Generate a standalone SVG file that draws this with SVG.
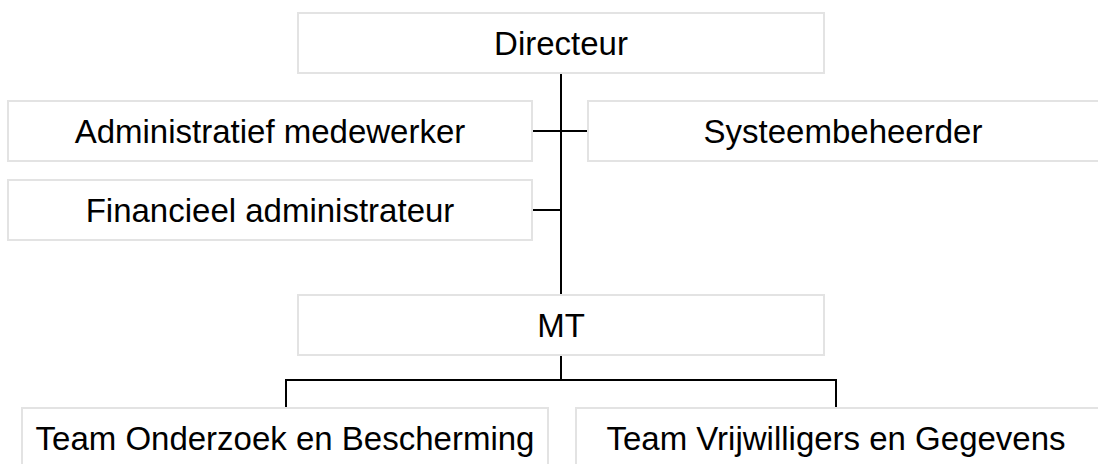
<svg xmlns="http://www.w3.org/2000/svg" width="1098" height="464" viewBox="0 0 1098 464">
<style>
.box{fill:#ffffff;stroke:#e3e3e3;stroke-width:2}
.lbl{font-family:"Liberation Sans",Arial,sans-serif;font-size:33px;fill:#000;text-anchor:middle}
.ln{stroke:#000;stroke-width:2;fill:none}
</style>
<rect width="1098" height="464" fill="#ffffff"/>
<g id="connectors">
<line class="ln" x1="561" y1="73" x2="561" y2="295"/>
<line class="ln" x1="533" y1="131" x2="588" y2="131"/>
<line class="ln" x1="533" y1="210" x2="561" y2="210"/>
<line class="ln" x1="561" y1="355" x2="561" y2="380"/>
<polyline class="ln" points="286,408 286,380 836,380 836,408"/>
</g>
<g id="directeur">
<rect class="box" x="298" y="13" width="526" height="60"/>
<text class="lbl" x="561" y="55">Directeur</text>
</g>
<g id="admin-medewerker">
<rect class="box" x="8" y="101" width="524" height="60"/>
<text class="lbl" x="270" y="143">Administratief medewerker</text>
</g>
<g id="systeembeheerder">
<rect class="box" x="588" y="101" width="520" height="60"/>
<text class="lbl" x="843" y="143">Systeembeheerder</text>
</g>
<g id="financieel-admin">
<rect class="box" x="8" y="180" width="524" height="60"/>
<text class="lbl" x="270" y="222">Financieel administrateur</text>
</g>
<g id="mt">
<rect class="box" x="298" y="295" width="526" height="60"/>
<text class="lbl" x="561" y="337">MT</text>
</g>
<g id="team-onderzoek">
<rect class="box" x="22" y="408" width="526" height="66"/>
<text class="lbl" x="285" y="450">Team Onderzoek en Bescherming</text>
</g>
<g id="team-vrijwilligers">
<rect class="box" x="576" y="408" width="526" height="66"/>
<text class="lbl" x="836" y="450">Team Vrijwilligers en Gegevens</text>
</g>
</svg>
